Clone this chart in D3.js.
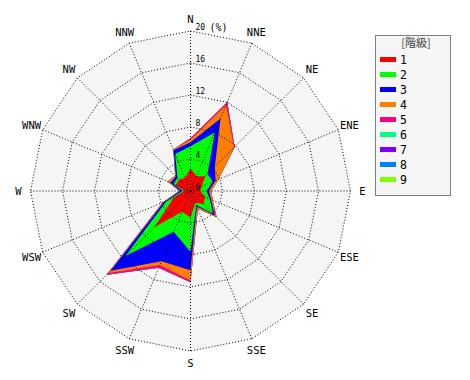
<!DOCTYPE html>
<html>
<head>
<meta charset="utf-8">
<script src="https://cdn.jsdelivr.net/npm/d3@7"></script>
<style>
  html, body { margin: 0; padding: 0; background: #ffffff; }
  svg { display: block; }
</style>
</head>
<body>
<svg id="chart" width="470" height="380"></svg>
<script>
// ---- data ----
const directions = ["N","NNE","NE","ENE","E","ESE","SE","SSE","S","SSW","SW","WSW","W","WNW","NW","NNW"];
const classLabels = ["1","2","3","4","5","6","7","8","9"];
const classColors = ["#ff0000","#00ff00","#0000ff","#ff8000","#ff0080","#00ff80","#8000ff","#0080ff","#80ff00"];
const radialTicks = [4, 8, 12, 16, 20];
const radialMax = 20;

// frequency (%) per class, per direction (N .. NNW)
const class1 = [2.8, 2.0, 2.6, 1.5, 1.2, 2.0, 2.3, 1.6, 3.3, 2.8, 6.4, 2.3, 0.8, 2.0, 2.0, 1.8];
const class2 = [2.8, 5.9, 0.4, 1.5, 0.8, 0.6, 1.7, 0.3, 4.3, 2.7, 5.1, 0.9, 0.2, 0.3, 0.3, 3.2];
const class3 = [0.5, 1.9, 1.3, 0.4, 0.3, 0.2, 0.3, 0.2, 2.3, 4.0, 2.6, 0.4, 0.3, 0.4, 0.3, 0.5];
const class4 = [0.3, 1.8, 3.4, 0.4, 0.3, 0.2, 0.2, 0.3, 1.3, 0.5, 0.4, 0.2, 0.1, 0.4, 0.1, 0.1];
const class5 = [0.2, 0.4, 0.1, 0.0, 0.0, 0.0, 0.1, 0.0, 0.2, 0.4, 0.3, 0.0, 0.0, 0.0, 0.0, 0.0];
const class6 = [0, 0, 0, 0, 0, 0, 0, 0, 0, 0, 0, 0, 0, 0, 0, 0];
const class7 = [0, 0, 0, 0, 0, 0, 0, 0, 0, 0, 0, 0, 0, 0, 0, 0];
const class8 = [0, 0, 0, 0, 0, 0, 0, 0, 0, 0, 0, 0, 0, 0, 0, 0];
const class9 = [0, 0, 0, 0, 0, 0, 0, 0, 0, 0, 0, 0, 0, 0, 0, 0];
const classes = [class1, class2, class3, class4, class5, class6, class7, class8, class9];

// ---- layout ----
const svg = d3.select("#chart");
const cx = 190.5, cy = 191, R = 160;
const mono = "'DejaVu Sans Mono', monospace";

const r = d3.scaleLinear().domain([0, radialMax]).range([0, R]);
const angle = d3.scaleLinear().domain([0, directions.length]).range([0, 2 * Math.PI]);

const g = svg.append("g").attr("transform", `translate(${cx},${cy})`);

const radial = d3.lineRadial()
  .angle((d, i) => angle(i))
  .radius(d => r(d))
  .curve(d3.curveLinearClosed);

// background polygon
g.append("path")
  .attr("d", radial(directions.map(() => radialMax)))
  .attr("fill", "#f5f5f5");

// cumulative stacks
const cumulative = [];
classes.forEach((vals, k) => {
  cumulative.push(vals.map((v, i) => v + (k > 0 ? cumulative[k - 1][i] : 0)));
});

// draw outermost first
for (let k = classes.length - 1; k >= 0; k--) {
  g.append("path")
    .attr("d", radial(cumulative[k]))
    .attr("fill", classColors[k])
    .attr("stroke", "none");
}

// grid rings
radialTicks.forEach(t => {
  g.append("path")
    .attr("d", radial(directions.map(() => t)))
    .attr("fill", "none")
    .attr("stroke", "#000")
    .attr("stroke-width", 1)
    .attr("stroke-dasharray", "1,2");
});

// spokes
directions.forEach((d, i) => {
  const a = angle(i);
  g.append("line")
    .attr("x1", 0).attr("y1", 0)
    .attr("x2", r(radialMax) * Math.sin(a))
    .attr("y2", -r(radialMax) * Math.cos(a))
    .attr("stroke", "#000")
    .attr("stroke-width", 1)
    .attr("stroke-dasharray", "1,2");
});

// direction labels
directions.forEach((d, i) => {
  const a = angle(i);
  const lr = R + 12;
  g.append("text")
    .attr("x", lr * Math.sin(a))
    .attr("y", -lr * Math.cos(a))
    .attr("text-anchor", "middle")
    .attr("dominant-baseline", "central")
    .attr("font-family", mono)
    .attr("font-size", 10.5)
    .attr("fill", "#000")
    .text(d);
});

// radial tick labels
[0].concat(radialTicks).forEach(t => {
  g.append("text")
    .attr("x", 5)
    .attr("y", -r(t) - 1)
    .attr("font-family", mono)
    .attr("font-size", 8)
    .attr("fill", "#000")
    .text(t);
});
g.append("text")
  .attr("x", 19)
  .attr("y", -r(radialMax) - 0.5)
  .attr("font-family", mono)
  .attr("font-size", 10)
  .attr("fill", "#000")
  .text("(%)");

// legend
const lg = svg.append("g");
lg.append("rect")
  .attr("x", 375.5).attr("y", 35.5)
  .attr("width", 75).attr("height", 160)
  .attr("fill", "#f5f5f5")
  .attr("stroke", "#000")
  .attr("stroke-dasharray", "1,1");
lg.append("text")
  .attr("x", 416).attr("y", 47)
  .attr("text-anchor", "middle")
  .attr("font-family", "'Noto Sans CJK JP', sans-serif")
  .attr("font-size", 11)
  .attr("fill", "#444")
  .text("[階級]");
classLabels.forEach((lab, k) => {
  const y = 59.5 + 15 * k;
  lg.append("rect")
    .attr("x", 380).attr("y", y - 2.5)
    .attr("width", 16).attr("height", 5)
    .attr("fill", classColors[k]);
  lg.append("text")
    .attr("x", 400).attr("y", y + 4)
    .attr("font-family", mono)
    .attr("font-size", 11.5)
    .attr("fill", "#000")
    .text(lab);
});
</script>
</body>
</html>
